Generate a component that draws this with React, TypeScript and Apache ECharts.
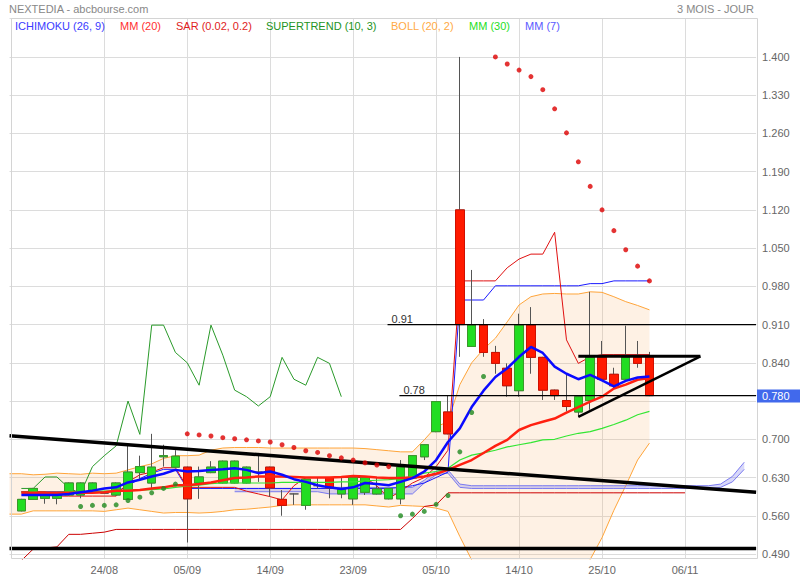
import React, { useEffect, useRef } from 'react';
import * as echarts from 'echarts';

// ---------- layout of categories ----------
const CAT_COUNT = 64; // index 0 = left edge, 1..54 = sessions, 55..63 = projection
const FIRST_CANDLE = 1;
const tickIndex = [8, 15, 22, 29, 36, 43, 50, 57];
const tickLabels = ['24/08', '05/09', '14/09', '23/09', '05/10', '14/10', '25/10', '06/11'];

// ---------- prices (54 sessions) ----------
const opens = [
  0.569, 0.590, 0.592, 0.592, 0.598, 0.598, 0.607, 0.601, 0.598, 0.590,
  0.639, 0.620, 0.668, 0.649, 0.649, 0.620, 0.639, 0.620, 0.620, 0.620,
  0.640, 0.649, 0.590, 0.600, 0.579, 0.615, 0.630, 0.600, 0.591, 0.603,
  0.600, 0.591, 0.591, 0.629, 0.668, 0.714, 0.750, 1.120, 0.870, 0.909,
  0.859, 0.830, 0.789, 0.909, 0.850, 0.790, 0.771, 0.750, 0.771, 0.850,
  0.819, 0.810, 0.850, 0.850,
];
const closes = [
  0.590, 0.610, 0.601, 0.598, 0.620, 0.620, 0.620, 0.601, 0.620, 0.640,
  0.650, 0.649, 0.670, 0.669, 0.591, 0.631, 0.649, 0.660, 0.660, 0.649,
  0.640, 0.611, 0.579, 0.600, 0.627, 0.615, 0.611, 0.608, 0.630, 0.630,
  0.609, 0.610, 0.649, 0.670, 0.690, 0.769, 0.710, 0.910, 0.909, 0.859,
  0.839, 0.798, 0.909, 0.850, 0.790, 0.780, 0.760, 0.778, 0.850, 0.810,
  0.798, 0.850, 0.839, 0.780,
];
const lows = [
  0.568, 0.589, 0.582, 0.581, 0.597, 0.592, 0.603, 0.600, 0.597, 0.590,
  0.625, 0.611, 0.650, 0.648, 0.511, 0.591, 0.638, 0.619, 0.619, 0.619,
  0.622, 0.595, 0.560, 0.580, 0.571, 0.610, 0.592, 0.592, 0.580, 0.598,
  0.599, 0.590, 0.581, 0.628, 0.662, 0.713, 0.709, 0.851, 0.869, 0.851,
  0.820, 0.778, 0.778, 0.820, 0.772, 0.772, 0.751, 0.741, 0.754, 0.809,
  0.792, 0.809, 0.831, 0.779,
];
const highs = [
  0.591, 0.611, 0.602, 0.599, 0.621, 0.621, 0.621, 0.602, 0.621, 0.689,
  0.670, 0.710, 0.690, 0.680, 0.650, 0.650, 0.660, 0.661, 0.661, 0.650,
  0.675, 0.650, 0.607, 0.601, 0.628, 0.630, 0.631, 0.629, 0.631, 0.631,
  0.629, 0.611, 0.662, 0.671, 0.691, 0.770, 0.780, 1.400, 1.010, 0.920,
  0.871, 0.839, 0.930, 0.942, 0.851, 0.791, 0.818, 0.779, 0.970, 0.880,
  0.831, 0.908, 0.880, 0.860,
];

// ---------- indicators ----------
const mm7 = [
  0.598, 0.598, 0.598, 0.598, 0.600, 0.603, 0.606, 0.610, 0.612, 0.621,
  0.626, 0.632, 0.637, 0.644, 0.641, 0.642, 0.644, 0.645, 0.647, 0.644,
  0.638, 0.641, 0.635, 0.627, 0.622, 0.616, 0.612, 0.609, 0.612, 0.620,
  0.618, 0.616, 0.622, 0.629, 0.641, 0.662, 0.695, 0.720, 0.759, 0.789,
  0.814, 0.830, 0.851, 0.869, 0.858, 0.833, 0.820, 0.810, 0.818, 0.808,
  0.797, 0.807, 0.813, 0.815,
];
const mm20 = [
  0.602, 0.602, 0.602, 0.602, 0.602, 0.602, 0.602, 0.603, 0.606, 0.606,
  0.607, 0.610, 0.612, 0.616, 0.616, 0.618, 0.621, 0.625, 0.629, 0.630,
  0.632, 0.632, 0.632, 0.631, 0.630, 0.630, 0.630, 0.631, 0.633, 0.632,
  0.630, 0.629, 0.629, 0.630, 0.632, 0.637, 0.644, 0.653, 0.662, 0.675,
  0.688, 0.699, 0.717, 0.726, 0.732, 0.738, 0.749, 0.759, 0.769, 0.778,
  0.793, 0.800, 0.809, 0.812,
];
const mm30 = [
  0.603, 0.603, 0.603, 0.603, 0.604, 0.604, 0.605, 0.605, 0.606, 0.607,
  0.607, 0.608, 0.609, 0.612, 0.614, 0.616, 0.619, 0.620, 0.620, 0.620,
  0.620, 0.620, 0.621, 0.621, 0.621, 0.621, 0.621, 0.622, 0.622, 0.624,
  0.625, 0.626, 0.628, 0.632, 0.638, 0.641, 0.647, 0.662, 0.671, 0.675,
  0.680, 0.686, 0.690, 0.694, 0.699, 0.700, 0.706, 0.711, 0.714, 0.720,
  0.727, 0.735, 0.745, 0.751,
];
// Bollinger bands start at the left edge (category 0)
const bollUpper = [
  0.637,
  0.637, 0.635, 0.636, 0.638, 0.637, 0.636, 0.638, 0.637, 0.638, 0.644,
  0.650, 0.655, 0.665, 0.670, 0.670, 0.671, 0.680, 0.684, 0.685, 0.685,
  0.685, 0.684, 0.684, 0.684, 0.684, 0.684, 0.684, 0.684, 0.684, 0.683,
  0.681, 0.679, 0.677, 0.677, 0.699, 0.723, 0.732, 0.800, 0.840, 0.865,
  0.885, 0.915, 0.946, 0.961, 0.966, 0.967, 0.966, 0.966, 0.970, 0.969,
  0.961, 0.952, 0.945, 0.937,
];
const bollLower = [
  0.563,
  0.563, 0.569, 0.569, 0.569, 0.569, 0.569, 0.569, 0.568, 0.571, 0.574,
  0.571, 0.568, 0.565, 0.566, 0.566, 0.565, 0.566, 0.568, 0.571, 0.572,
  0.574, 0.576, 0.579, 0.580, 0.580, 0.580, 0.580, 0.580, 0.580, 0.580,
  0.578, 0.576, 0.579, 0.578, 0.577, 0.574, 0.568, 0.522, 0.479, 0.450,
  0.430, 0.410, 0.400, 0.400, 0.400, 0.400, 0.420, 0.450, 0.480, 0.520,
  0.570, 0.615, 0.662, 0.693,
];
const tenkan = [
  0.604, 0.604, 0.604, 0.596, 0.596, 0.596, 0.596, 0.596, 0.596, 0.622,
  0.635, 0.640, 0.648, 0.648, 0.612, 0.612, 0.612, 0.612, 0.612, 0.605,
  0.600, 0.595, 0.589, 0.615, 0.630, 0.630, 0.630, 0.630, 0.630, 0.630,
  0.615, 0.592, 0.605, 0.620, 0.630, 0.650, 0.680, 0.990, 0.990, 0.990,
  0.990, 1.014, 1.030, 1.039, 1.039, 1.079, 0.882, 0.839, 0.851, 0.855,
  0.855, 0.855, 0.855, 0.855,
];
const kijun = [
  0.604, 0.604, 0.604, 0.604, 0.604, 0.604, 0.604, 0.604, 0.604, 0.615,
  0.628, 0.638, 0.645, 0.645, 0.610, 0.610, 0.610, 0.610, 0.610, 0.610,
  0.610, 0.610, 0.610, 0.610, 0.610, 0.610, 0.610, 0.610, 0.610, 0.610,
  0.610, 0.610, 0.612, 0.615, 0.620, 0.630, 0.640, 0.955, 0.955, 0.955,
  0.981, 0.981, 0.981, 0.981, 0.981, 0.981, 0.981, 0.981, 0.985, 0.985,
  0.990, 0.990, 0.990, 0.990,
];
const chikou = [
  0.610, 0.610, 0.631, 0.631, 0.611, 0.601, 0.650, 0.670, 0.688, 0.770,
  0.709, 0.909, 0.909, 0.859, 0.840, 0.799, 0.909, 0.854, 0.790, 0.778,
  0.761, 0.778, 0.850, 0.810, 0.799, 0.850, 0.839, 0.778,
];
// thin red line, starts at the left edge (category 0)
const redLine = [
  0.455,
  0.478, 0.499, 0.501, 0.503, 0.526, 0.526, 0.528, 0.530,
  0.535, 0.535, 0.535, 0.535, 0.535, 0.535, 0.535, 0.535, 0.535, 0.535,
  0.535, 0.535, 0.535, 0.535, 0.535, 0.535, 0.535, 0.535, 0.535, 0.535,
  0.535, 0.535, 0.535, 0.535, 0.535,
  0.555, 0.577, 0.580,
  0.602, 0.602, 0.602, 0.602, 0.602, 0.602, 0.602, 0.602, 0.602, 0.602,
  0.602, 0.602, 0.602, 0.602, 0.602, 0.602, 0.602, 0.602, 0.602, 0.602, 0.602,
];
// Ichimoku cloud, from session 18 to projection end
const CLOUD_START = 18;
const cloudTop = [
  0.610, 0.610, 0.610, 0.610, 0.610, 0.610, 0.610, 0.610,
  0.612, 0.612, 0.612, 0.612, 0.612, 0.612, 0.612, 0.612,
  0.625, 0.642, 0.644, 0.618,
  0.615, 0.615, 0.615, 0.615, 0.615, 0.615, 0.615, 0.615, 0.615, 0.615, 0.615,
  0.615, 0.615, 0.615, 0.615, 0.615, 0.615, 0.615, 0.615, 0.615, 0.615,
  0.618, 0.632, 0.658,
];
const cloudBottom = [
  0.604, 0.604, 0.604, 0.604, 0.604, 0.604, 0.604, 0.604,
  0.600, 0.600, 0.600, 0.600, 0.600, 0.600, 0.600, 0.600,
  0.620, 0.635, 0.638, 0.612,
  0.610, 0.610, 0.610, 0.610, 0.610, 0.610, 0.610, 0.610, 0.610, 0.610, 0.610,
  0.610, 0.610, 0.610, 0.610, 0.610, 0.610, 0.610, 0.610, 0.610, 0.610,
  0.612, 0.622, 0.645,
];
// SAR dots
const sarBelow1 = [0.577, 0.579, 0.579, 0.580, 0.588, 0.594, 0.602, 0.610, 0.618]; // sessions 5..13
const sarAbove1 = [
  0.710, 0.708, 0.706, 0.703, 0.701, 0.699, 0.697, 0.695, 0.690, 0.685,
  0.679, 0.676, 0.670, 0.666, 0.662, 0.657, 0.653, 0.650,
]; // sessions 14..31
const sarBelow2 = [0.560, 0.563, 0.568, 0.581, 0.597, 0.677, 0.749, 0.815]; // sessions 32..39
const sarAbove2 = [
  1.400, 1.387, 1.376, 1.364, 1.340, 1.305, 1.261, 1.208, 1.163, 1.120,
  1.082, 1.047, 1.017, 0.990,
]; // sessions 40..53

// ---------- drawn annotations: [category position, price] ----------
const trendLine = [[0, 0.7063], [63, 0.6031]];
const supportLine = [[0, 0.5], [63, 0.5]];
const level91 = [[31.9, 0.91], [63, 0.91]];
const level78 = [[32.9, 0.78], [63, 0.78]];
const triangleTop = [[48, 0.852], [58.3, 0.852]];
const triangleRise = [[48, 0.741], [58.3, 0.852]];

const legendItems = [
  { text: 'ICHIMOKU (26, 9)', color: '#3b3bff', x: 15 },
  { text: 'MM (20)', color: '#ff3030', x: 120 },
  { text: 'SAR (0.02, 0.2)', color: '#e01c1c', x: 176 },
  { text: 'SUPERTREND (10, 3)', color: '#239323', x: 266 },
  { text: 'BOLL (20, 2)', color: '#ffaa44', x: 391 },
  { text: 'MM (30)', color: '#1ee01e', x: 469 },
  { text: 'MM (7)', color: '#5a5aff', x: 525 },
];

// ---------- chart constants ----------
const Y_TOP = 1.47;
const Y_GRID_MIN = 0.49;
const PX_PER_UNIT = 546.2;
const Y_MIN = Y_GRID_MIN - 5 / PX_PER_UNIT;
const FONT = '"Liberation Sans", Arial, sans-serif';

const pad = (start: number, vals: number[]) => {
  const out: (number | null)[] = new Array(CAT_COUNT).fill(null);
  vals.forEach((v, i) => { out[start + i] = v; });
  return out;
};

export default function App() {
  const ref = useRef<HTMLDivElement>(null);

  useEffect(() => {
    document.body.style.margin = '0';
    if (!ref.current) return;
    const chart = echarts.init(ref.current, undefined, { renderer: 'svg' });

    const catNames = Array.from({ length: CAT_COUNT }, (_, i) => String(i));
    const tickMap = new Map<number, string>(tickIndex.map((k, j) => [k, tickLabels[j]]));
    const isTick = (i: number) => tickMap.has(i);

    const candleFull: any[] = new Array(CAT_COUNT).fill('-');
    const candleBody: any[] = new Array(CAT_COUNT).fill('-');
    opens.forEach((o, i) => {
      const c = closes[i];
      candleFull[FIRST_CANDLE + i] = [o, c, lows[i], highs[i]];
      if (o !== c) candleBody[FIRST_CANDLE + i] = [o, c, Math.min(o, c), Math.max(o, c)];
    });

    const bollDiff = bollUpper.map((u, i) => +(u - bollLower[i]).toFixed(4));
    const cloudDiff = cloudTop.map((t, i) => +(t - cloudBottom[i]).toFixed(4));

    const line = (data: any[], color: string, width: number, z: number, extra: any = {}) => ({
      type: 'line', xAxisIndex: 0, yAxisIndex: 0, data, symbol: 'none', showSymbol: false,
      silent: true, z, lineStyle: { color, width }, ...extra,
    });
    const anno = (data: number[][], width: number) => ({
      type: 'line', xAxisIndex: 1, yAxisIndex: 0, data, symbol: 'none', showSymbol: false,
      silent: true, z: 8, lineStyle: { color: '#000', width },
    });
    const dots = (start: number, vals: number[], color: string) => ({
      type: 'scatter', xAxisIndex: 0, yAxisIndex: 0, data: pad(start, vals), symbolSize: 5,
      silent: true, z: 9, itemStyle: { color },
    });

    const option: any = {
      animation: false,
      backgroundColor: '#fff',
      textStyle: { fontFamily: FONT },
      grid: [
        { left: 9.5, right: 43.9, top: 18.7, bottom: 21 },
        { left: 9.5, right: 43.9, top: 18.7, bottom: 26 },
      ],
      xAxis: [
        {
          type: 'category', gridIndex: 0, data: catNames, boundaryGap: false,
          axisLine: { show: false }, axisTick: { show: false },
          axisLabel: {
            interval: (i: number) => isTick(i),
            formatter: (_v: string, i: number) => tickMap.get(i) ?? '',
            color: '#666', fontSize: 11, fontFamily: FONT, margin: 5,
          },
          splitLine: { show: true, interval: (i: number) => isTick(i), lineStyle: { color: '#dcdcdc', width: 1 } },
        },
        { type: 'value', gridIndex: 0, min: 0, max: CAT_COUNT - 1, show: false },
        { type: 'value', gridIndex: 1, min: 0, max: 1, show: false },
      ],
      yAxis: [
        { type: 'value', gridIndex: 0, min: Y_MIN, max: Y_TOP, show: false, splitLine: { show: false } },
        {
          type: 'value', gridIndex: 1, position: 'right', min: Y_GRID_MIN, max: Y_TOP, interval: 0.07,
          axisLine: { show: false }, axisTick: { show: false },
          axisLabel: {
            color: '#666', fontSize: 11, fontFamily: FONT, margin: 6,
            formatter: (v: number) => (Math.abs(v - 0.77) < 1e-6 || v > 1.46 ? '' : v.toFixed(3)),
          },
          splitLine: { show: true, lineStyle: { color: '#dcdcdc', width: 1 } },
        },
      ],
      series: [
        { type: 'line', xAxisIndex: 2, yAxisIndex: 1, data: [], silent: true },
        // Bollinger band
        line(pad(0, bollLower), '#ffa53a', 1, 1, { stack: 'boll' }),
        line(pad(0, bollDiff), '#ffa53a', 1, 1, { stack: 'boll', areaStyle: { color: 'rgba(250,175,100,0.25)' } }),
        // Ichimoku cloud
        line(pad(FIRST_CANDLE + CLOUD_START, cloudBottom), '#7a7af0', 1, 2, { stack: 'cloud' }),
        line(pad(FIRST_CANDLE + CLOUD_START, cloudDiff), '#7a7af0', 1, 2, { stack: 'cloud', areaStyle: { color: 'rgba(130,130,235,0.45)' } }),
        // thin lines
        line(pad(0, redLine), '#cc0000', 1, 3),
        line(pad(FIRST_CANDLE, kijun), '#1a1aff', 1, 3),
        line(pad(FIRST_CANDLE, tenkan), '#e01010', 1, 3),
        line(pad(FIRST_CANDLE, chikou), '#2a9a2a', 1, 3),
        // candles
        {
          type: 'candlestick', xAxisIndex: 0, yAxisIndex: 0, data: candleFull, barWidth: 9, silent: true, z: 4,
          itemStyle: { color: '#22dd22', color0: '#ff1a00', borderColor: '#555', borderColor0: '#555', borderWidth: 1 },
        },
        {
          type: 'candlestick', xAxisIndex: 0, yAxisIndex: 0, data: candleBody, barWidth: 9, silent: true, z: 5,
          itemStyle: { color: '#22dd22', color0: '#ff1a00', borderColor: '#3a9a2a', borderColor0: '#d01000', borderWidth: 1 },
        },
        // moving averages
        line(pad(FIRST_CANDLE, mm30), '#33e633', 1.2, 6),
        line(pad(FIRST_CANDLE, mm20), '#ff2010', 2.5, 6),
        line(pad(FIRST_CANDLE, mm7), '#0a0aff', 2.5, 7),
        // drawings
        anno(trendLine, 3.5),
        anno(supportLine, 3.5),
        anno(level91, 1.2),
        anno(level78, 1.2),
        anno(triangleTop, 3),
        anno(triangleRise, 2.5),
        // SAR
        dots(FIRST_CANDLE + 5, sarBelow1, '#1f8a1f'),
        dots(FIRST_CANDLE + 14, sarAbove1, '#dd0000'),
        dots(FIRST_CANDLE + 32, sarBelow2, '#1f8a1f'),
        dots(FIRST_CANDLE + 40, sarAbove2, '#dd0000'),
      ],
    };
    chart.setOption(option);

    const yOf = (v: number) => chart.convertToPixel({ yAxisIndex: 0 }, v) as number;
    const xOf = (v: number) => chart.convertToPixel({ xAxisIndex: 1 }, v) as number;
    const x0 = xOf(0);
    const x1 = xOf(CAT_COUNT - 1);
    const frameTop = yOf(Y_TOP);
    const frameBottom = yOf(Y_MIN);
    const last = closes[closes.length - 1];
    const yLast = yOf(last);

    const txt = (text: string, x: number, y: number, fill: string, align = 'left', size = 11) => ({
      type: 'text', x, y, silent: true, z: 20,
      style: { text, fill, font: `${size}px ${FONT}`, textAlign: align, textVerticalAlign: 'middle' },
    });

    chart.setOption({
      graphic: [
        {
          type: 'rect', silent: true, z: 15,
          shape: { x: Math.round(x0) + 1.5, y: Math.round(frameTop) - 0.5, width: Math.round(x1 - x0) - 1, height: Math.round(frameBottom - frameTop) },
          style: { fill: 'none', stroke: '#d4d4d4', lineWidth: 1 },
        },
        txt('NEXTEDIA - abcbourse.com', 9, 9, '#888'),
        txt('3 MOIS - JOUR', 754, 9, '#888', 'right'),
        ...legendItems.map((l) => txt(l.text, l.x, 25.7, l.color)),
        txt('0.91', xOf(level91[0][0]) + 4, yOf(0.91) - 6, '#333'),
        txt('0.78', xOf(level78[0][0]) + 4, yOf(0.78) - 6, '#333'),
        {
          type: 'rect', silent: true, z: 18,
          shape: { x: Math.round(x1) + 1, y: Math.round(yLast) - 6.5, width: 44, height: 13 },
          style: { fill: '#4169ec' },
        },
        txt(last.toFixed(3), Math.round(x1) + 6, Math.round(yLast), '#fff'),
      ],
    });

    return () => chart.dispose();
  }, []);

  return <div ref={ref} style={{ width: 800, height: 580 }} />;
}
